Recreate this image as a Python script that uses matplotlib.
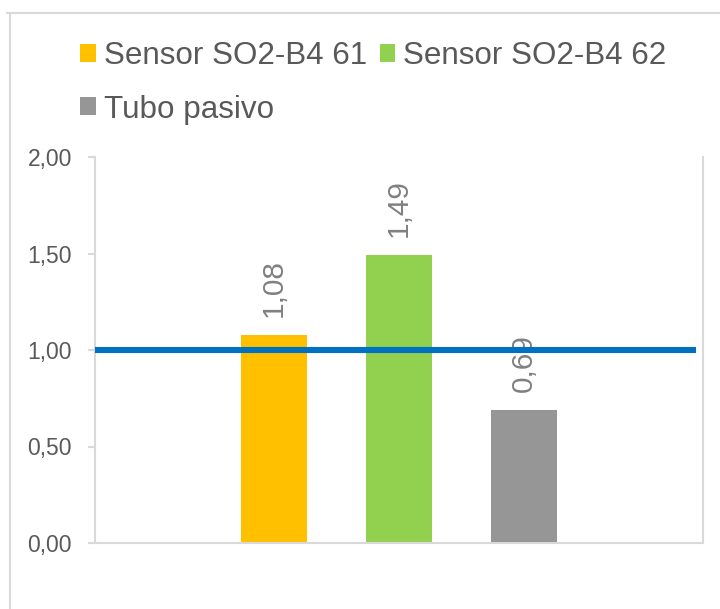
import matplotlib.pyplot as plt
from matplotlib.lines import Line2D

plt.rcParams["font.family"] = ["Liberation Sans", "DejaVu Sans"]

series = ["Sensor SO2-B4 61", "Sensor SO2-B4 62", "Tubo pasivo"]
values = [1.08, 1.49, 0.69]
colors = ["#FFC000", "#92D050", "#969696"]
reference_level = 1.0
y_ticks = [0.0, 0.5, 1.0, 1.5, 2.0]

GRID = "#D9D9D9"
TEXT = "#595959"
LABEL = "#808080"


def comma(v):
    return f"{v:.2f}".replace(".", ",")


fig = plt.figure(figsize=(7.2, 6.09), dpi=100)
ax = fig.add_axes([95 / 720, 1 - 543 / 609, 608 / 720, 386 / 609])

positions = list(range(len(series)))
bars = []
for pos, val, col, name in zip(positions, values, colors, series):
    b = ax.bar(pos, val, width=0.528, color=col, label=name, zorder=2)
    bars.append(b)
    ax.annotate(comma(val), (pos, val), xytext=(0, 13), textcoords="offset points",
                rotation=90, ha="center", va="bottom", fontsize=21.5,
                color=LABEL, zorder=3)

ax.axhline(reference_level, xmin=0, xmax=598 / 608, color="#0070C0",
           linewidth=4.4, zorder=4)

ax.set_xlim(-1.432, 3.432)
ax.set_ylim(0, 2)
ax.set_xticks([])
ax.set_yticks(y_ticks)
ax.set_yticklabels([comma(t) for t in y_ticks])
ax.tick_params(axis="y", length=5, width=1.5, color=GRID, pad=11.5,
               labelsize=16.5, labelcolor=TEXT)
for side in ("left", "bottom", "right"):
    ax.spines[side].set_color(GRID)
    ax.spines[side].set_linewidth(1.5)
ax.spines["top"].set_visible(False)

# legend: row-wise order with two columns
order = [0, 2, 1]
fig.legend([bars[i] for i in order], [series[i] for i in order],
           ncol=2, loc="upper left", bbox_to_anchor=(80 / 720, 1 - 41 / 609),
           frameon=False, fontsize=22.6, labelcolor=TEXT, borderpad=0,
           borderaxespad=0, handlelength=0.5, handleheight=0.5,
           handletextpad=0.26, columnspacing=0.4, labelspacing=0.75)

# outer chart border
fig.add_artist(Line2D([7 / 720, 1], [1 - 13 / 609] * 2, color=GRID, linewidth=1.5))
fig.add_artist(Line2D([10 / 720] * 2, [0, 1 - 13 / 609], color=GRID, linewidth=1.5))

fig.savefig("out.png", dpi=100, facecolor="white")
